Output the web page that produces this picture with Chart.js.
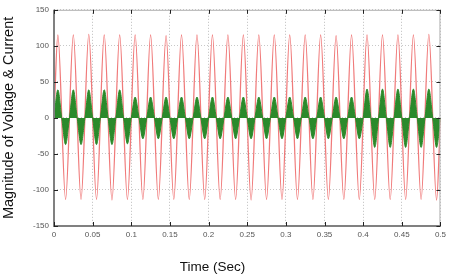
<!DOCTYPE html>
<html>
<head>
<meta charset="utf-8">
<script src="https://cdn.jsdelivr.net/npm/chart.js@4/dist/chart.umd.min.js"></script>
<style>
  html, body { margin: 0; padding: 0; background: #fff; }
  #wrap { width: 450px; height: 276px; }
</style>
</head>
<body>
<div id="wrap"><canvas id="waveChart"></canvas></div>
<script>
// start time of each 50 Hz cycle (sec)
const cycleStarts = [0, 0.02, 0.04, 0.06, 0.08, 0.1, 0.12, 0.14, 0.16, 0.18,
  0.2, 0.22, 0.24, 0.26, 0.28, 0.3, 0.32, 0.34, 0.36, 0.38,
  0.4, 0.42, 0.44, 0.46, 0.48];
const cycleLength = 0.02;

// voltage (red) peaks / troughs per cycle
const voltagePeaks = [115, 115, 116, 115, 115, 115, 115, 114, 115, 115,
  115, 115, 115, 115, 115, 115, 115, 115, 114, 115,
  115, 115, 115, 115, 116];
const voltageTroughs = [-113, -113, -113, -114, -113, -113, -113, -113, -113, -113,
  -113, -113, -114, -113, -113, -113, -113, -113, -113, -113,
  -113, -113, -113, -113, -114];

// current (green) peaks / troughs per cycle
const currentPeaks = [39, 39, 39, 39, 39, 29, 29, 29, 29, 29,
  29, 29, 29, 29, 29, 29, 29, 29, 29, 29,
  40, 40, 40, 40, 40];
const currentTroughs = [-37, -37, -37, -37, -36, -29, -29, -29, -29, -29,
  -29, -29, -29, -29, -29, -29, -29, -29, -29, -29,
  -41, -41, -41, -41, -41];

const yTicks = [-150, -100, -50, 0, 50, 100, 150];
const xTickLabels = ['0', '0.05', '0.1', '0.15', '0.2', '0.25', '0.3', '0.35', '0.4', '0.45', '0.5'];

// build the point lists
const voltagePts = [{x: 0, y: 0}];
const currentPts = [];
cycleStarts.forEach((t0, i) => {
  voltagePts.push({x: t0 + cycleLength / 4, y: voltagePeaks[i]});
  voltagePts.push({x: t0 + cycleLength * 3 / 4, y: voltageTroughs[i]});
  currentPts.push({x: t0, y: 0});
  currentPts.push({x: t0 + cycleLength / 4, y: currentPeaks[i]});
  currentPts.push({x: t0 + cycleLength / 2, y: 0});
  currentPts.push({x: t0 + cycleLength * 3 / 4, y: currentTroughs[i]});
});
voltagePts.push({x: 0.5, y: 0});
currentPts.push({x: 0.5, y: 0});

const tickFont = { family: "'Liberation Sans Narrow', 'Liberation Sans', Arial", size: 8 };

// matlab style box, inward tick marks, x title
const framePlugin = {
  id: 'frame',
  afterDraw(chart) {
    const {ctx, chartArea: a, scales} = chart;
    ctx.save();
    ctx.strokeStyle = '#b0b0b0';
    ctx.lineWidth = 1;
    ctx.beginPath();
    ctx.moveTo(a.left, a.top + 0.5);
    ctx.lineTo(a.right - 0.5, a.top + 0.5);
    ctx.lineTo(a.right - 0.5, a.bottom);
    ctx.stroke();
    ctx.strokeStyle = '#808080';
    ctx.lineWidth = 2;
    ctx.beginPath();
    ctx.moveTo(a.left, a.top);
    ctx.lineTo(a.left, a.bottom);
    ctx.lineTo(a.right, a.bottom);
    ctx.stroke();

    ctx.strokeStyle = '#222';
    ctx.lineWidth = 1;
    ctx.beginPath();
    yTicks.forEach(v => {
      const y = Math.round(scales.y.getPixelForValue(v)) + 0.5;
      ctx.moveTo(a.left, y); ctx.lineTo(a.left + 4, y);
      ctx.moveTo(a.right, y); ctx.lineTo(a.right - 4, y);
    });
    scales.x.ticks.forEach(t => {
      const x = Math.round(scales.x.getPixelForValue(t.value)) + 0.5;
      ctx.moveTo(x, a.bottom); ctx.lineTo(x, a.bottom - 4);
      ctx.moveTo(x, a.top); ctx.lineTo(x, a.top + 4);
    });
    ctx.stroke();

    ctx.fillStyle = '#111';
    ctx.font = "13.5px 'Liberation Sans', Arial";
    ctx.textAlign = 'center';
    ctx.textBaseline = 'middle';
    ctx.fillText('Time (Sec)', a.left + (a.right - a.left) * 0.41, 267);
    ctx.restore();
  }
};

const chart = new Chart(document.getElementById('waveChart'), {
  type: 'line',
  data: {
    datasets: [{
      label: 'Voltage',
      data: voltagePts,
      borderColor: '#f07a7a',
      borderWidth: 1.3,
      pointRadius: 0,
      cubicInterpolationMode: 'monotone',
      fill: false,
      order: 2
    }, {
      label: 'Current',
      data: currentPts,
      borderColor: '#2b8a2b',
      backgroundColor: '#2b8a2b',
      borderWidth: 1,
      pointRadius: 0,
      cubicInterpolationMode: 'monotone',
      fill: 'origin',
      order: 1
    }]
  },
  options: {
    responsive: true,
    maintainAspectRatio: false,
    animation: false,
    layout: { padding: { top: 8, right: 6, left: 0, bottom: 0 } },
    plugins: {
      legend: { display: false },
      tooltip: { enabled: false }
    },
    scales: {
      x: {
        type: 'linear',
        min: 0,
        max: 0.5,
        grid: { color: '#bdbdbd', drawTicks: false },
        border: { display: false, dash: [1, 2] },
        ticks: {
          stepSize: 0.05,
          padding: 4,
          maxRotation: 0,
          autoSkip: false,
          color: '#555',
          font: tickFont,
          callback: (v, i) => xTickLabels[i]
        },
        afterFit: s => { s.height = 50; }
      },
      y: {
        min: -150,
        max: 150,
        grid: { color: '#c8c8c8', drawTicks: false },
        border: { display: false, dash: [1, 2] },
        ticks: {
          stepSize: 50,
          padding: 5,
          color: '#555',
          font: tickFont
        },
        title: {
          display: true,
          text: 'Magnitude of Voltage & Current',
          color: '#111',
          font: { family: "'Liberation Sans', Arial", size: 14.5 },
          padding: { top: 0, bottom: 0 }
        },
        afterFit: s => { s.width = 54; }
      }
    }
  },
  plugins: [framePlugin]
});
</script>
</body>
</html>
